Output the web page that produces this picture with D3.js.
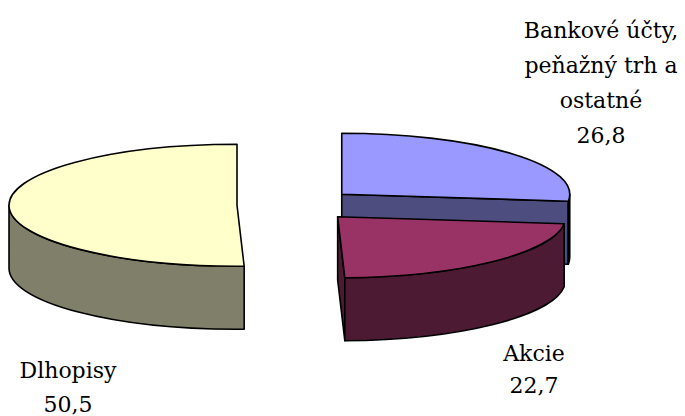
<!DOCTYPE html>
<html>
<head>
<meta charset="utf-8">
<script src="https://cdn.jsdelivr.net/npm/d3@7"></script>
<style>
  body { margin: 0; background: #fff; }
</style>
</head>
<body>
<div id="chart"></div>
<script>
// data (pie starts at 12 o'clock, clockwise)
const categories = ['Bankové účty, peňažný trh a ostatné', 'Akcie', 'Dlhopisy'];
const values = [26.8, 22.7, 50.5];
const valueLabels = ['26,8', '22,7', '50,5'];
const labelLines = [
  ['Bankové účty,', 'peňažný trh a', 'ostatné'],
  ['Akcie'],
  ['Dlhopisy']
];
const topColors = ['#9999FF', '#993366', '#FFFFCC'];
const sideColors = ['#4D4D80', '#4D1A33', '#80806A'];

const width = 685;
const height = 416;

// pie geometry
const cx = 297, cy = 205;
const rx = 228, ry = 61;
const depth = 63;
const explode = 60;
const tilt = ry / rx;

const svg = d3.select('#chart').append('svg')
  .attr('width', width)
  .attr('height', height);

const pie = d3.pie().sort(null).startAngle(0).endAngle(2 * Math.PI);
const arcs = pie(values).map((d, i) => {
  const mid = (d.startAngle + d.endAngle) / 2;
  d.i = i;
  d.cx = cx + explode * Math.sin(mid);
  d.cy = cy - explode * Math.cos(mid) * tilt;
  return d;
});

const pt = (d, a, z) => [d.cx + rx * Math.sin(a), d.cy - ry * Math.cos(a) + (z || 0)];

function topPath(d) {
  const p0 = pt(d, d.startAngle), p1 = pt(d, d.endAngle);
  const large = d.endAngle - d.startAngle > Math.PI ? 1 : 0;
  return `M${d.cx},${d.cy}L${p0}A${rx},${ry} 0 ${large} 1 ${p1}Z`;
}

function sidePath(d) {
  const s = Math.max(d.startAngle, Math.PI / 2);
  const e = Math.min(d.endAngle, 3 * Math.PI / 2);
  if (e <= s) return null;
  const a = pt(d, s), b = pt(d, e), b2 = pt(d, e, depth), a2 = pt(d, s, depth);
  return `M${a}A${rx},${ry} 0 0 1 ${b}L${b2}A${rx},${ry} 0 0 0 ${a2}Z`;
}

function cutPath(d, a) {
  const p = pt(d, a), p2 = pt(d, a, depth);
  return `M${d.cx},${d.cy}L${p}L${p2}L${d.cx},${d.cy + depth}Z`;
}

// back to front
const order = arcs.slice().sort((a, b) => a.cy - b.cy);

order.forEach((d) => {
  const g = svg.append('g').attr('class', 'slice');
  const faces = [];
  // cut faces only when they turn towards the viewer
  if (-Math.cos(d.startAngle - Math.PI / 2) > 0.001) faces.push(cutPath(d, d.startAngle));
  if (-Math.cos(d.endAngle + Math.PI / 2) > 0.001) faces.push(cutPath(d, d.endAngle));
  const sp = sidePath(d);
  if (sp) faces.push(sp);

  g.selectAll('path.side').data(faces).join('path')
    .attr('class', 'side')
    .attr('d', (p) => p)
    .attr('fill', sideColors[d.i])
    .attr('stroke', '#000')
    .attr('stroke-width', 1.6)
    .attr('stroke-linejoin', 'round');

  g.append('path')
    .attr('d', topPath(d))
    .attr('fill', topColors[d.i])
    .attr('stroke', '#000')
    .attr('stroke-width', 1.6)
    .attr('stroke-linejoin', 'round');
});

// labels
const labelPos = [
  { x: 601, y: 38, dy: 35 },
  { x: 534, y: 361, dy: 32 },
  { x: 68, y: 378, dy: 34 }
];

labelPos.forEach((p, i) => {
  const lines = labelLines[i].concat([valueLabels[i]]);
  svg.append('text')
    .attr('x', p.x)
    .attr('y', p.y)
    .attr('font-family', '"DejaVu Serif", serif')
    .attr('font-size', 22)
    .attr('fill', '#000')
    .attr('text-anchor', 'middle')
    .selectAll('tspan')
    .data(lines)
    .join('tspan')
    .attr('x', p.x)
    .attr('y', (l, j) => p.y + j * p.dy)
    .text((l) => l);
});
</script>
</body>
</html>
